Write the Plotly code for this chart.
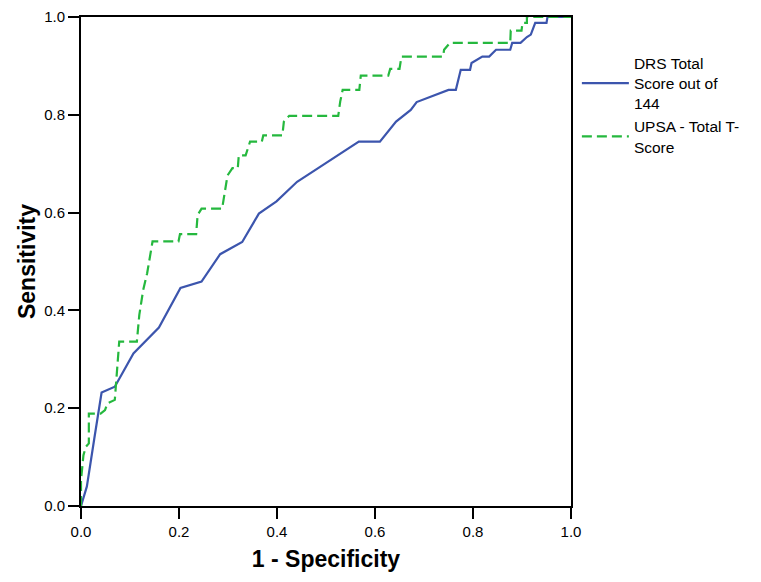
import plotly.graph_objects as go

# DRS Total Score out of 144 (ROC curve)
drs_x = [0.0, 0.012, 0.027, 0.042, 0.069, 0.107, 0.159, 0.203, 0.246, 0.284, 0.329,
         0.363, 0.399, 0.441, 0.484, 0.529, 0.567, 0.610, 0.643, 0.673, 0.685, 0.750,
         0.765, 0.775, 0.794, 0.797, 0.819, 0.833, 0.847, 0.876, 0.880, 0.897, 0.910,
         0.918, 0.927, 0.950, 0.952, 1.0]
drs_y = [0.0, 0.040, 0.137, 0.232, 0.244, 0.312, 0.365, 0.446, 0.459, 0.515, 0.540,
         0.598, 0.623, 0.663, 0.691, 0.720, 0.745, 0.745, 0.786, 0.810, 0.826, 0.851,
         0.851, 0.892, 0.892, 0.906, 0.919, 0.919, 0.933, 0.933, 0.947, 0.947, 0.959,
         0.964, 0.988, 0.988, 1.0, 1.0]

# UPSA - Total T-Score (ROC curve)
upsa_x = [0.0, 0.0, 0.005, 0.010, 0.016, 0.016, 0.040, 0.049, 0.054, 0.069, 0.078,
          0.114, 0.119, 0.127, 0.135, 0.141, 0.146, 0.199, 0.202, 0.235, 0.238, 0.246,
          0.288, 0.299, 0.309, 0.320, 0.322, 0.336, 0.345, 0.369, 0.372, 0.411, 0.414,
          0.425, 0.525, 0.529, 0.534, 0.568, 0.571, 0.627, 0.631, 0.650, 0.654, 0.739,
          0.741, 0.753, 0.876, 0.877, 0.899, 0.901, 0.910, 0.910, 1.0]
upsa_y = [0.0, 0.053, 0.104, 0.121, 0.128, 0.189, 0.189, 0.196, 0.210, 0.217, 0.336,
          0.336, 0.391, 0.442, 0.476, 0.517, 0.541, 0.541, 0.556, 0.556, 0.595, 0.608,
          0.608, 0.676, 0.691, 0.691, 0.717, 0.717, 0.745, 0.745, 0.758, 0.758, 0.786,
          0.798, 0.798, 0.827, 0.851, 0.851, 0.880, 0.880, 0.894, 0.894, 0.919, 0.919,
          0.933, 0.947, 0.947, 0.972, 0.972, 0.988, 0.988, 1.0, 1.0]

tick_vals = [0.0, 0.2, 0.4, 0.6, 0.8, 1.0]
tick_text = ["0.0", "0.2", "0.4", "0.6", "0.8", "1.0"]

BLUE = "#3c55ad"
GREEN = "#25b83e"
FONT = "Liberation Sans, Arial, sans-serif"

fig = go.Figure()
fig.add_trace(go.Scatter(x=drs_x, y=drs_y, mode="lines",
                         name="DRS Total<br>Score out of<br>144",
                         line=dict(color=BLUE, width=2.2)))
fig.add_trace(go.Scatter(x=upsa_x, y=upsa_y, mode="lines",
                         name="UPSA - Total T-<br>Score",
                         line=dict(color=GREEN, width=2.2, dash="10px,5px")))

axis_common = dict(
    range=[0, 1], tickvals=tick_vals, ticktext=tick_text,
    showgrid=False, zeroline=False, automargin=False,
    showline=True, linecolor="black", linewidth=2, mirror=True,
    ticks="outside", ticklen=11, tickwidth=2, tickcolor="black",
    tickfont=dict(family=FONT, size=15, color="black"),
)

# the page body adds an 8px offset, so the figure is sized 8px smaller
fig.update_layout(
    width=753, height=574,
    margin=dict(l=73, r=190, t=9, b=76),
    paper_bgcolor="white", plot_bgcolor="white",
    font=dict(family=FONT, color="black"),
    xaxis=dict(**axis_common,
               title=dict(text="<b>1 - Specificity</b>",
                          font=dict(family=FONT, size=23, color="black"),
                          standoff=12)),
    yaxis=dict(**axis_common,
               title=dict(text="<b>Sensitivity</b>",
                          font=dict(family=FONT, size=23, color="black"),
                          standoff=2)),
    legend=dict(x=1.012, y=0.94, xanchor="left", yanchor="top",
                font=dict(family=FONT, size=15.5, color="black"),
                bgcolor="rgba(0,0,0,0)", borderwidth=0,
                tracegroupgap=0, itemwidth=47),
    showlegend=True,
)

fig.write_html("out.html")
